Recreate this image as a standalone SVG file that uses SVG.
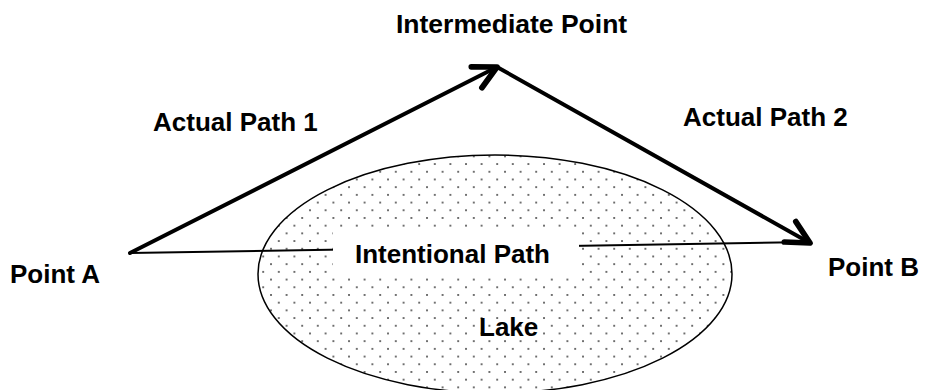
<svg xmlns="http://www.w3.org/2000/svg" width="925" height="390" viewBox="0 0 925 390">
<style>
  .lbl { font-family: "Liberation Sans", Arial, sans-serif; font-weight: bold; font-size: 26px; fill: #000; }
  .thick { stroke: #000; stroke-width: 4; fill: none; stroke-linecap: round; }
  .thin { stroke: #000; stroke-width: 2; fill: none; }
</style>
<defs>
  <pattern id="dots" patternUnits="userSpaceOnUse" x="465" y="301.7" width="15.6" height="15.4">
    <rect width="15.6" height="15.4" fill="#fff"/>
    <circle cx="1" cy="1" r="1" fill="#444"/>
    <circle cx="8.8" cy="8.7" r="1" fill="#444"/>
  </pattern>
  <marker id="ah" markerUnits="userSpaceOnUse" markerWidth="40" markerHeight="40" viewBox="-22 -14 28 28" refX="0" refY="0" orient="auto" overflow="visible">
    <path d="M-16,-8.2 L0,0 L-16,8.2" fill="none" stroke="#000" stroke-width="4" stroke-linecap="round" stroke-linejoin="round"/>
  </marker>
</defs>
<rect width="925" height="390" fill="#fff"/>
<g id="lake">
  <ellipse cx="495" cy="274" rx="237" ry="119" fill="url(#dots)" stroke="#000" stroke-width="1.5"/>
  <text class="lbl" x="479" y="336">Lake</text>
</g>
<g id="connectors">
  <line class="thin" x1="130" y1="253" x2="810" y2="242"/>
  <line class="thick" x1="130" y1="253" x2="497" y2="67" marker-end="url(#ah)"/>
  <line class="thick" x1="497" y1="67" x2="810" y2="243" marker-end="url(#ah)"/>
  <text class="lbl" x="153" y="131">Actual Path 1</text>
  <text class="lbl" x="683" y="126">Actual Path 2</text>
</g>
<g id="intentional-path">
  <rect x="333" y="228" width="246" height="48" fill="#fff"/>
  <text class="lbl" x="355" y="263">Intentional Path</text>
</g>
<g id="point-a">
  <text class="lbl" x="10" y="283">Point A</text>
</g>
<g id="point-b">
  <text class="lbl" x="828" y="276">Point B</text>
</g>
<g id="intermediate-point">
  <text class="lbl" x="396" y="33" style="font-size:26.5px">Intermediate Point</text>
</g>
</svg>
